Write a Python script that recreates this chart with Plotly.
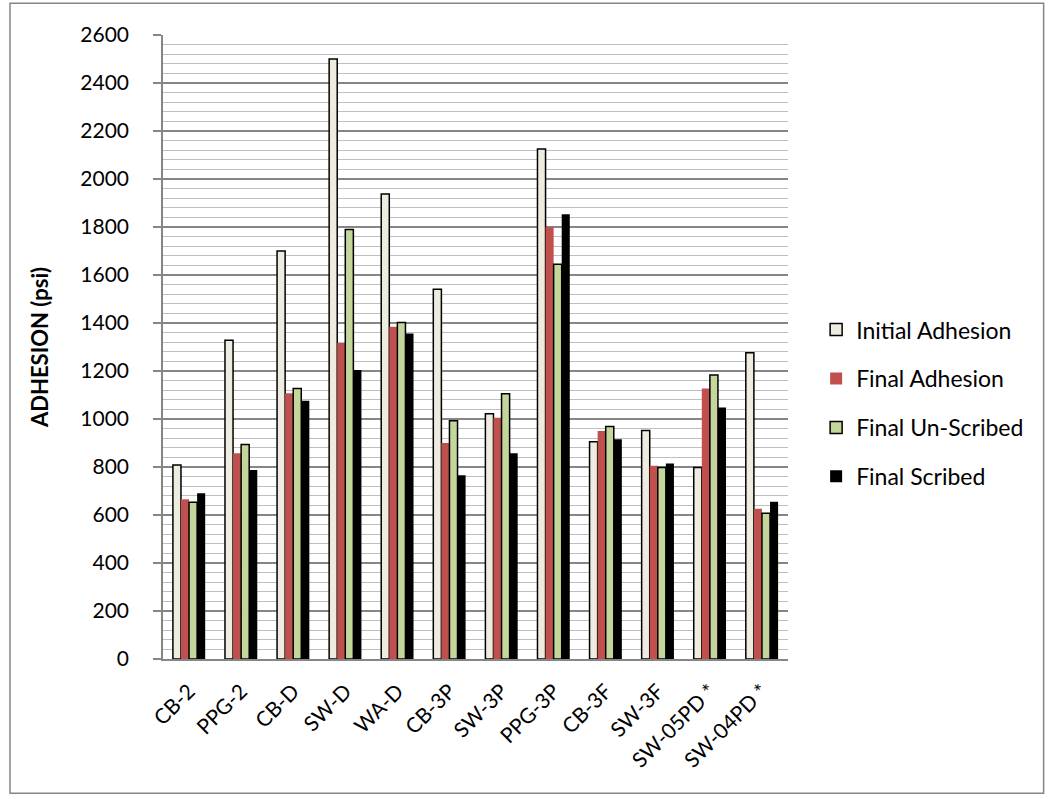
import plotly.graph_objects as go

# Coating samples
categories = ["CB-2", "PPG-2", "CB-D", "SW-D", "WA-D", "CB-3P", "SW-3P",
              "PPG-3P", "CB-3F", "SW-3F", "SW-05PD *", "SW-04PD *"]

# Pull-off adhesion (psi)
initial_adhesion = [808, 1328, 1700, 2500, 1937, 1541, 1022, 2125, 905, 952, 798, 1276]
final_adhesion = [666, 857, 1107, 1317, 1384, 900, 1005, 1800, 950, 805, 1127, 626]
final_unscribed = [653, 894, 1127, 1790, 1402, 993, 1105, 1645, 969, 798, 1183, 607]
final_scribed = [691, 787, 1076, 1204, 1356, 766, 857, 1853, 916, 815, 1048, 655]

y_ticks = list(range(0, 2601, 200))

series = [
    ("Initial Adhesion", initial_adhesion, "#EEECE1", "#000000", 1.5),
    ("Final Adhesion", final_adhesion, "#C0504D", "#C0504D", 0),
    ("Final Un-Scribed", final_unscribed, "#C3D69B", "#000000", 1.5),
    ("Final Scribed", final_scribed, "#000000", "#000000", 0),
]

fig = go.Figure()
for i, (name, vals, fill, edge, lw) in enumerate(series):
    fig.add_trace(go.Bar(
        x=categories, y=vals, name=name, legendgroup=f"g{i}",
        marker=dict(color=fill, line=dict(color=edge, width=lw)),
    ))

font_family = "Lato, 'Open Sans', sans-serif"

fig.update_layout(
    width=1049, height=799,
    margin=dict(l=163, r=261, t=35, b=140),
    paper_bgcolor="white", plot_bgcolor="white",
    barmode="group", bargap=0.38, bargroupgap=0,
    font=dict(family=font_family, size=21, color="#000000"),
    showlegend=True,
    legend=dict(
        x=1.045, y=0.41, xanchor="left", yanchor="middle",
        font=dict(family=font_family, size=23, color="#000000"),
        tracegroupgap=16, bgcolor="rgba(0,0,0,0)",
    ),
    xaxis=dict(
        tickangle=-45, showgrid=False,
        showline=True, linecolor="#868686", linewidth=1.5,
        ticks="", tickfont=dict(size=21), ticklabelstandoff=10,
    ),
    yaxis=dict(
        range=[0, 2600], tickvals=y_ticks,
        showgrid=True, gridcolor="#868686", gridwidth=1.5,
        minor=dict(dtick=40, showgrid=True, gridcolor="#BFBFBF", gridwidth=1.2),
        showline=True, linecolor="#868686", linewidth=1.5,
        ticks="outside", ticklen=8, tickcolor="#868686", tickwidth=1.5,
        tickfont=dict(size=21), ticklabelstandoff=20, zeroline=False,
        title=dict(text="<b>ADHESION (psi)</b>", font=dict(size=22), standoff=26),
    ),
    shapes=[dict(
        type="rect", xref="paper", yref="paper",
        x0=-0.2448, x1=1.409, y0=-0.215, y1=1.0508,
        line=dict(color="#868686", width=1.5), fillcolor="rgba(0,0,0,0)",
    )],
)

fig.write_html("out.html")
